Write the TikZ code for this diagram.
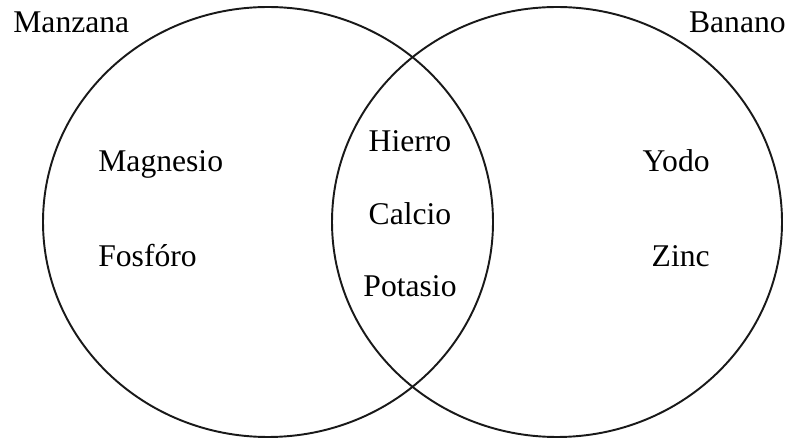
\documentclass[tikz,border=0pt]{standalone}
\usepackage{fontspec}
\setmainfont{Liberation Serif}
\usetikzlibrary{positioning}

\begin{document}
\begin{tikzpicture}[x=0.02cm,y=-0.02cm,font=\fontsize{18}{20}\selectfont,
  conj/.style={line width=1.1pt,black!90},
  elem/.style={inner sep=0pt,anchor=base}]
\useasboundingbox (0,0) rectangle (790,438);
% ===== two sets (slightly wide circles) =====
\draw[conj] (268,222) ellipse [x radius=225,y radius=215];
\draw[conj] (557,222) ellipse [x radius=225,y radius=215];
% set names
\node[elem,anchor=base west] (manzana) at (13,33) {Manzana};
\node[elem,anchor=base east] (banano) at (786,33) {Banano};
% ===== only Manzana =====
\node[elem,anchor=base west] (magnesio) at (98,172) {Magnesio};
\node[elem,anchor=base west] (fosforo) at (98,267) {Fosfóro};
% ===== both =====
\node[elem] (hierro) at (410,152) {Hierro};
\node[elem] (calcio) at (410,225) {Calcio};
\node[elem] (potasio) at (410,297) {Potasio};
% ===== only Banano =====
\node[elem,anchor=base east] (yodo) at (710,172) {Yodo};
\node[elem,anchor=base east] (zinc) at (710,267) {Zinc};
\end{tikzpicture}
\end{document}
